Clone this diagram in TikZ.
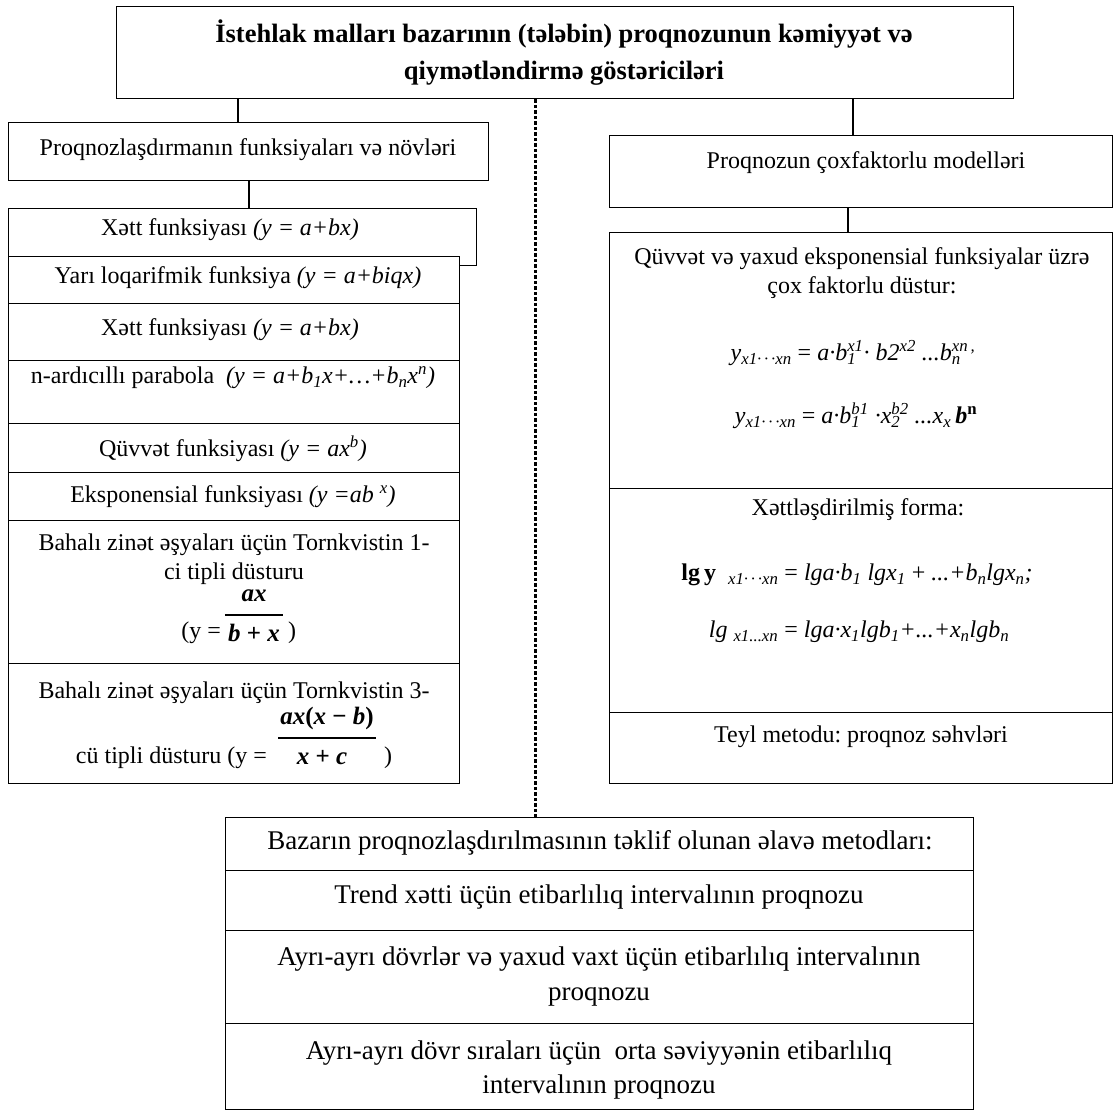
\documentclass[tikz,border=0pt]{standalone}
\usepackage{fontspec}
\setmainfont{Liberation Serif}
\frenchspacing
% stacked superscript over subscript
\newcommand\stk[2]{\begingroup\setbox0=\hbox{\textsuperscript{#1}}\setbox2=\hbox{\textsubscript{#2}}%
  \ifdim\wd0>\wd2 \rlap{\box2}\box0\else\rlap{\box0}\box2\fi\endgroup}
\begin{document}
\begin{tikzpicture}[x=1pt,y=-1pt,
  box/.style={draw, line width=1.3pt, fill=white, inner sep=0pt, anchor=north west},
  txt/.style={inner sep=0pt, align=center, font=\fontsize{24}{29}\selectfont},
  big/.style={inner sep=0pt, align=center, font=\fontsize{27}{35}\selectfont},
  ttl/.style={inner sep=0pt, align=center, font=\bfseries\fontsize{26.5}{37}\selectfont},
  frm/.style={inner sep=0pt, font=\fontsize{24}{28}\selectfont},
  frac/.style={inner sep=0pt, font=\fontsize{25}{28}\selectfont},
  link/.style={line width=1.3pt},
  dots/.style={line width=3pt, dash pattern=on 3.2pt off 2.3pt}]
\useasboundingbox (0,0) rectangle (1115,1111);

% connector positions
\coordinate (c1) at (238,0);
\coordinate (c2) at (249,0);
\coordinate (c3) at (853,0);
\coordinate (c4) at (848,0);
\coordinate (c5) at (535,0);

% heading
\node[box, minimum width=897pt, minimum height=92pt] (top) at (116,6) {};
\node[ttl] (toptext) at (564,53) {İstehlak malları bazarının (tələbin) proqnozunun kəmiyyət və\\qiymətləndirmə göstəriciləri};

% left column
\node[box, minimum width=480pt, minimum height=58pt] (proq) at (8,122) {};
\node[txt] (proqt) at (248,150) {Proqnozlaşdırmanın funksiyaları və növləri};

\node[box, minimum width=468pt, minimum height=57pt] (xett) at (8,208) {};
\node[txt] (xettt) at (230,230) {Xətt funksiyası \textit{(y = a+bx)}};
\node[box, minimum width=451pt, minimum height=47pt] (yari) at (8,256) {};
\node[txt] (yarit) at (238,278) {Yarı loqarifmik funksiya \textit{(y = a+biqx)}};
\node[box, minimum width=451pt, minimum height=57pt] (xett2) at (8,303) {};
\node[txt] (xett2t) at (230,330) {Xətt funksiyası \textit{(y = a+bx)}};
\node[box, minimum width=451pt, minimum height=63pt] (parab) at (8,360) {};
\node[txt] (parabt) at (233,378) {n-ardıcıllı parabola\ \ \textit{(y = a+b\textsubscript{1}x+…+b\textsubscript{n}x\textsuperscript{n})}};
\node[box, minimum width=451pt, minimum height=49pt] (quv) at (8,423) {};
\node[txt] (quvt) at (233,449) {Qüvvət funksiyası \textit{(y = ax\textsuperscript{b})}};
\node[box, minimum width=451pt, minimum height=48pt] (eksp) at (8,472) {};
\node[txt] (ekspt) at (233,497) {Eksponensial funksiyası \textit{(y =ab \textsuperscript{x})}};

\node[box, minimum width=451pt, minimum height=143pt] (torn1) at (8,520) {};
\node[txt] (torn1t) at (234,559) {Bahalı zinət əşyaları üçün Tornkvistin 1-\\ci tipli düsturu};
\node[frac] (t1num) at (254,596) {\textbf{\textit{ax}}};
\node[frac] (t1den) at (254,633) {\textbf{\textit{b} + \textit{x}}};
\node[frm, anchor=east] (t1l) at (221,633) {(y =};
\node[frm] (t1r) at (292,633) {)};
\draw[line width=1.6pt] ([xshift=-3pt]t1den.west |- 0,615) -- ([xshift=3pt]t1den.east |- 0,615);

\node[box, minimum width=451pt, minimum height=120pt] (torn3) at (8,663) {};
\node[txt] (torn3t) at (234,693) {Bahalı zinət əşyaları üçün Tornkvistin 3-};
\node[frac] (t3num) at (327,718) {\textbf{\textit{ax}(\textit{x} − \textit{b})}};
\node[frm, anchor=east] (t3l) at (267,758) {cü tipli düsturu (y =};
\node[frac] (t3den) at (322,758) {\textbf{\textit{x} + \textit{c}}};
\node[frm] (t3r) at (388,758) {)};
\draw[line width=1.6pt] ([xshift=-2pt]t3num.west |- 0,738) -- ([xshift=2pt]t3num.east |- 0,738);

% right column
\node[box, minimum width=503pt, minimum height=72pt] (model) at (609,135) {};
\node[txt] (modelt) at (866,163) {Proqnozun çoxfaktorlu modelləri};

\node[box, minimum width=503pt, minimum height=256pt] (multiA) at (609,232) {};
\node[txt] (multiAt) at (862,273) {Qüvvət və yaxud eksponensial funksiyalar üzrə\\çox faktorlu düstur:};
\node[frm] (f1) at (853,353) {\textit{y}\textsubscript{\textit{x1·\,·\,·xn}} = \textit{a·b}\stk{\textit{x1}}{\textit{1}}\textit{· b2}\textsuperscript{\textit{x2}}\ \textit{...b}\stk{\textit{xn\,,}}{\textit{n}}};
\node[frm] (f2) at (856,416) {\textit{y}\textsubscript{\textit{x1·\,·\,·xn}} = \textit{a·b}\stk{\textit{b1}}{\textit{1}}\ \textit{·x}\stk{\textit{b2}}{\textit{2}}\ \textit{...x}\textsubscript{\textit{x}}\,\textbf{\textit{b}}\textsuperscript{\textbf{n}}};

\node[box, minimum width=503pt, minimum height=224pt] (multiB) at (609,488) {};
\node[txt] (multiBt) at (858,510) {Xəttləşdirilmiş forma:};
\node[frm] (f3) at (857,575) {\textbf{lg\,y}\ \ \textsubscript{\textit{x1·\,·\,·xn}} = \textit{lga·b}\textsubscript{\textit{1}}\ \textit{lgx}\textsubscript{\textit{1}} + \textit{...+b}\textsubscript{\textit{n}}\textit{lgx}\textsubscript{\textit{n}}\textit{;}};
\node[frm] (f4) at (859,632) {\textit{lg}\ \textsubscript{\textit{x1...xn}} = \textit{lga·x}\textsubscript{\textit{1}}\textit{lgb}\textsubscript{\textit{1}}\textit{+...+x}\textsubscript{\textit{n}}\textit{lgb}\textsubscript{\textit{n}}};

\node[box, minimum width=503pt, minimum height=71pt] (multiC) at (609,712) {};
\node[txt] (multiCt) at (861,737) {Teyl metodu: proqnoz səhvləri};

% bottom block
\node[box, minimum width=748pt, minimum height=53pt] (bazA) at (225,817) {};
\node[big] (bazAt) at (600,843) {Bazarın proqnozlaşdırılmasının təklif olunan əlavə metodları:};
\node[box, minimum width=748pt, minimum height=60pt] (bazB) at (225,870) {};
\node[big] (bazBt) at (599,897) {Trend xətti üçün etibarlılıq intervalının proqnozu};
\node[box, minimum width=748pt, minimum height=93pt] (bazC) at (225,930) {};
\node[big] (bazCt) at (599,976) {Ayrı-ayrı dövrlər və yaxud vaxt üçün etibarlılıq intervalının\\proqnozu};
\node[box, minimum width=748pt, minimum height=86pt] (bazD) at (225,1023) {};
\node[big, font=\fontsize{27}{34}\selectfont] (bazDt) at (599,1070) {Ayrı-ayrı dövr sıraları üçün\ \ orta səviyyənin etibarlılıq\\intervalının proqnozu};

% connectors
\draw[link] (top.south -| c1) -- (proq.north -| c1);
\draw[link] (proq.south -| c2) -- (xett.north -| c2);
\draw[link] (top.south -| c3) -- (model.north -| c3);
\draw[link] (model.south -| c4) -- (multiA.north -| c4);
\draw[dots] (top.south -| c5) -- (bazA.north -| c5);
\end{tikzpicture}
\end{document}
